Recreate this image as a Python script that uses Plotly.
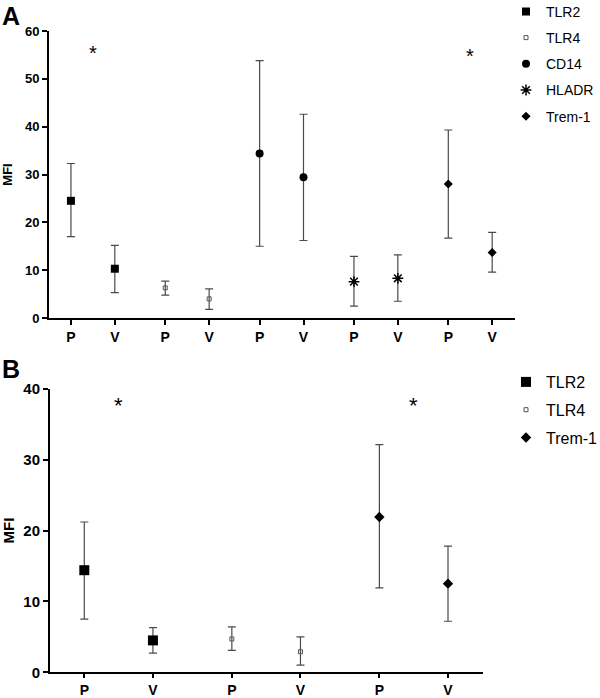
import plotly.graph_objects as go

# ---------------- data ----------------
groups_a = ["TLR2", "TLR4", "CD14", "HLADR", "Trem-1"]
p_mean_a = [24.5, 6.3, 34.4, 7.6, 28.0]
p_hi_a = [32.3, 7.7, 53.8, 12.9, 39.3]
p_lo_a = [17.0, 4.8, 15.0, 2.5, 16.7]
v_mean_a = [10.3, 4.0, 29.4, 8.3, 13.7]
v_hi_a = [15.2, 6.1, 42.6, 13.2, 17.9]
v_lo_a = [5.3, 1.8, 16.2, 3.5, 9.6]
stars_a_group = [0, 4]
stars_a_y = [55.4, 54.8]

groups_b = ["TLR2", "TLR4", "Trem-1"]
p_mean_b = [14.4, 4.7, 21.9]
p_hi_b = [21.2, 6.4, 32.1]
p_lo_b = [7.5, 3.1, 11.9]
v_mean_b = [4.5, 2.9, 12.5]
v_hi_b = [6.3, 5.0, 17.8]
v_lo_b = [2.7, 1.0, 7.2]
stars_b_group = [0, 2]
stars_b_y = [37.6, 37.7]

condition_labels = ["P", "V"]
pair_step = 2.15

styles = {
    "TLR2": dict(symbol="square", color="black", line=dict(width=0)),
    "TLR4": dict(symbol="square-open", color="#555555", line=dict(width=1)),
    "CD14": dict(symbol="circle", color="black", line=dict(width=0)),
    "HLADR": dict(symbol="asterisk-open", color="black", line=dict(width=1.5, color="black")),
    "Trem-1": dict(symbol="diamond", color="black", line=dict(width=0)),
}
sizes_a = {"TLR2": 8, "TLR4": 4, "CD14": 8, "HLADR": 9, "Trem-1": 7}
sizes_b = {"TLR2": 10, "TLR4": 4, "Trem-1": 8}

FONT = "Liberation Sans, Arial, sans-serif"
H = 698.0
W = 600.0

fig = go.Figure()


def add_panel(groups, pm, ph, pl, vm, vh, vl, xa, ya, legend, sizes):
    for i, g in enumerate(groups):
        xs = [i * pair_step, i * pair_step + 1]
        ys = [pm[i], vm[i]]
        up = [ph[i] - pm[i], vh[i] - vm[i]]
        dn = [pm[i] - pl[i], vm[i] - vl[i]]
        st = styles[g]
        fig.add_trace(go.Scatter(
            x=xs, y=ys, mode="markers", name=g,
            xaxis=xa, yaxis=ya, legend=legend, legendgroup=legend + g,
            marker=dict(symbol=st["symbol"], color=st["color"], size=sizes[g], line=st["line"]),
            error_y=dict(type="data", symmetric=False, array=up, arrayminus=dn,
                         color="#4a4a4a", thickness=1.2, width=4),
            cliponaxis=False,
        ))


add_panel(groups_a, p_mean_a, p_hi_a, p_lo_a, v_mean_a, v_hi_a, v_lo_a, "x", "y", "legend", sizes_a)
add_panel(groups_b, p_mean_b, p_hi_b, p_lo_b, v_mean_b, v_hi_b, v_lo_b, "x2", "y2", "legend2", sizes_b)

tick_a = [i * pair_step + k for i in range(len(groups_a)) for k in (0, 1)]
tick_b = [i * pair_step + k for i in range(len(groups_b)) for k in (0, 1)]

axis_common = dict(showline=True, linecolor="black", linewidth=2, ticks="outside",
                   tickcolor="black", tickwidth=2, showgrid=False,
                   zeroline=False, automargin=False)

fig.update_layout(
    width=600, height=698,
    margin=dict(l=0, r=0, t=0, b=0, autoexpand=False),
    paper_bgcolor="white", plot_bgcolor="white",
    font=dict(family=FONT, color="black"),
    xaxis=dict(domain=[49 / W, 515 / W], range=[-0.5, (len(groups_a) - 1) * pair_step + 1.52],
               tickvals=tick_a, ticktext=condition_labels * len(groups_a), ticklen=5,
               tickfont=dict(size=14, family=FONT, weight="bold"), anchor="y", **axis_common),
    yaxis=dict(domain=[(H - 318) / H, (H - 31) / H], range=[0, 60], dtick=10, ticklen=5,
               tickfont=dict(size=13, family=FONT, weight="bold"), anchor="x",
               title=dict(text="MFI", font=dict(size=13, family=FONT, weight="bold"), standoff=12),
               **axis_common),
    xaxis2=dict(domain=[50 / W, 483 / W], range=[-0.5, (len(groups_b) - 1) * pair_step + 1.51],
                tickvals=tick_b, ticktext=condition_labels * len(groups_b), ticklen=4,
                tickfont=dict(size=14, family=FONT, weight="bold"), anchor="y2", **axis_common),
    yaxis2=dict(domain=[(H - 672.3) / H, (H - 388.7) / H], range=[0, 40], dtick=10, ticklen=5,
                tickfont=dict(size=15, family=FONT, weight="bold"), anchor="x2",
                title=dict(text="MFI", font=dict(size=15, family=FONT, weight="bold"), standoff=12),
                **axis_common),
    legend=dict(x=506 / W, y=1.006, xanchor="left", yanchor="top", bgcolor="rgba(0,0,0,0)",
                font=dict(size=14, family=FONT), tracegroupgap=5, itemwidth=30),
    legend2=dict(x=506 / W, y=(H - 365) / H, xanchor="left", yanchor="top", bgcolor="rgba(0,0,0,0)",
                 font=dict(size=16, family=FONT), tracegroupgap=4, itemwidth=30),
    showlegend=True,
)

annotations = []
for g, yv in zip(stars_a_group, stars_a_y):
    annotations.append(dict(x=g * pair_step + 0.5, y=yv, xref="x", yref="y", text="*", showarrow=False,
                            font=dict(size=20, family=FONT, color="black"), yanchor="middle"))
for g, yv in zip(stars_b_group, stars_b_y):
    annotations.append(dict(x=g * pair_step + 0.5, y=yv, xref="x2", yref="y2", text="*", showarrow=False,
                            font=dict(size=22, family=FONT, color="black"), yanchor="middle"))
annotations.append(dict(x=0, y=1.0, xref="paper", yref="paper", text="<b>A</b>", showarrow=False,
                        xanchor="left", yanchor="top", font=dict(size=25, family=FONT, color="black")))
annotations.append(dict(x=0, y=(H - 353) / H, xref="paper", yref="paper", text="<b>B</b>", showarrow=False,
                        xanchor="left", yanchor="top", font=dict(size=25, family=FONT, color="black")))
fig.update_layout(annotations=annotations)

fig.write_html("out.html", config={"displayModeBar": False},
               post_script="document.body.style.margin='0';document.body.style.padding='0';")
